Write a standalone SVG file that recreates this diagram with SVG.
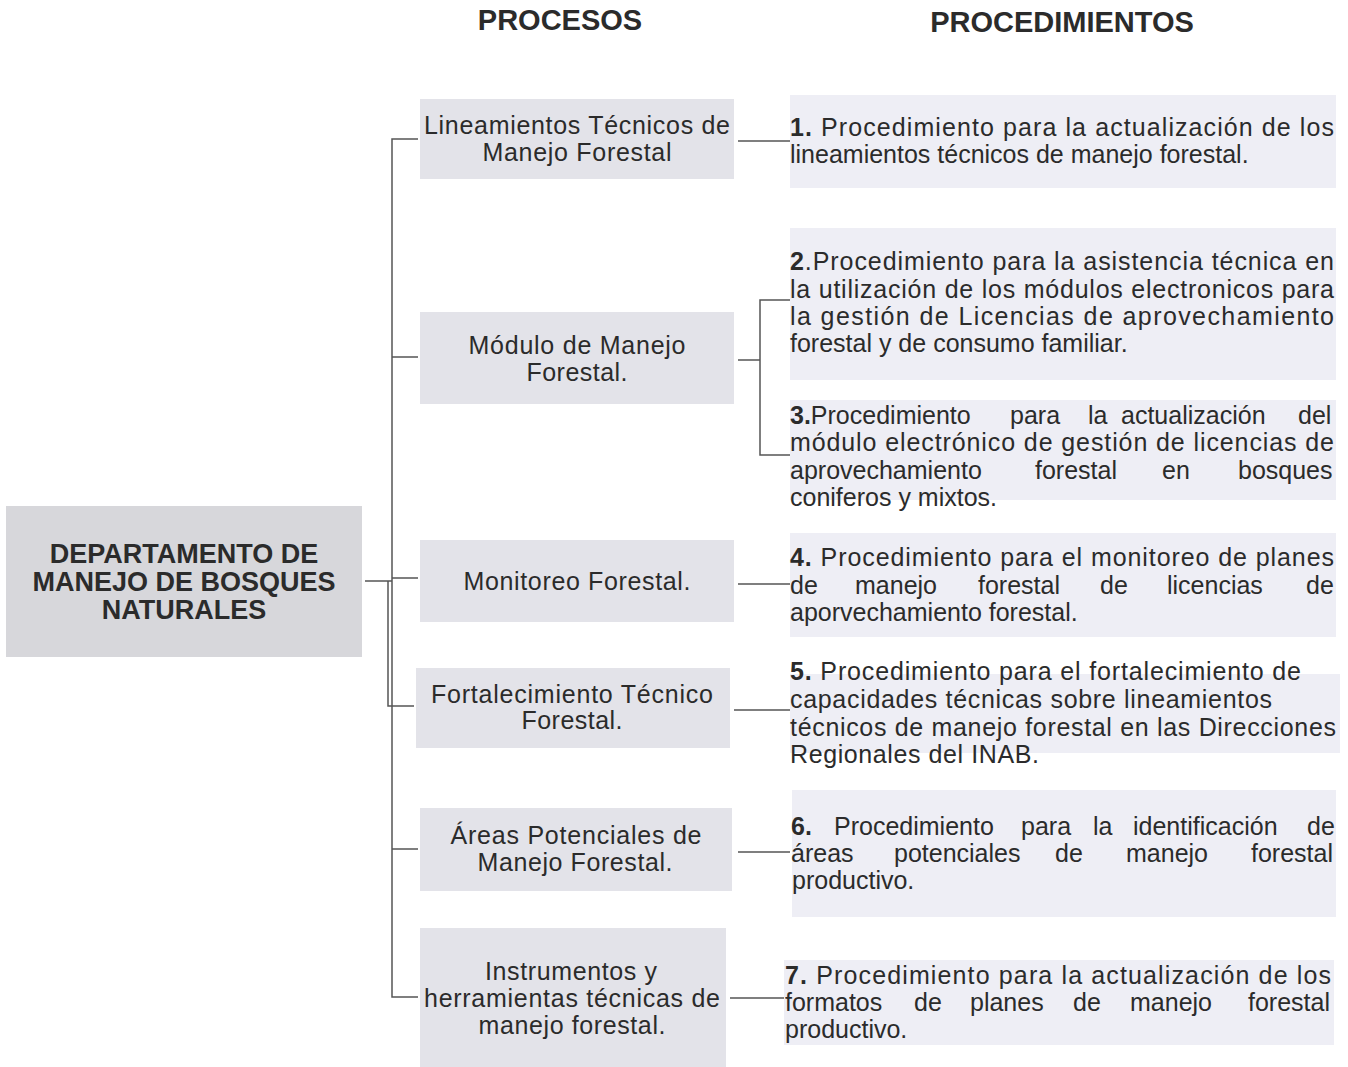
<svg xmlns="http://www.w3.org/2000/svg" width="1348" height="1067" viewBox="0 0 1348 1067">
<style>
text{font-family:"Liberation Sans",Arial,sans-serif;fill:#2b2b2b}
.hdr{font-size:29px;font-weight:bold;text-anchor:middle}
.ttl{font-size:27px;font-weight:bold;text-anchor:middle}
.pr{font-size:25px;text-anchor:middle}
.pd{font-size:25px}
.b{font-weight:bold}
.root{fill:#d7d7db}
.pbox{fill:#e3e3e9}
.dbox{fill:#eeeef5}
.ln{stroke:#555;stroke-width:1.5;fill:none}
</style>
<rect width="1348" height="1067" fill="#ffffff"/>
<g id="headers">
<text class="hdr" x="560" y="30">PROCESOS</text>
<text class="hdr" x="1062" y="32">PROCEDIMIENTOS</text>
</g>
<g id="root">
<rect class="root" x="6" y="506" width="356" height="151"/>
<text class="ttl" x="184" y="563">DEPARTAMENTO DE</text>
<text class="ttl" x="184" y="591">MANEJO DE BOSQUES</text>
<text class="ttl" x="184" y="619">NATURALES</text>
</g>
<g id="p1"><rect class="pbox" x="420" y="99" width="314" height="80"/>
<text class="pr" x="577" y="134" textLength="306" lengthAdjust="spacing">Lineamientos Técnicos de</text><text class="pr" x="577" y="161" textLength="189" lengthAdjust="spacing">Manejo Forestal</text></g>
<g id="p2"><rect class="pbox" x="420" y="312" width="314" height="92"/>
<text class="pr" x="577" y="354" textLength="217" lengthAdjust="spacing">Módulo de Manejo</text><text class="pr" x="577" y="381" textLength="101" lengthAdjust="spacing">Forestal.</text></g>
<g id="p3"><rect class="pbox" x="420" y="540" width="314" height="82"/>
<text class="pr" x="577" y="590" textLength="227" lengthAdjust="spacing">Monitoreo Forestal.</text></g>
<g id="p4"><rect class="pbox" x="416" y="668" width="314" height="80"/>
<text class="pr" x="572" y="703" textLength="282" lengthAdjust="spacing">Fortalecimiento Técnico</text><text class="pr" x="572" y="729" textLength="101" lengthAdjust="spacing">Forestal.</text></g>
<g id="p5"><rect class="pbox" x="420" y="808" width="312" height="83"/>
<text class="pr" x="576" y="844" textLength="251" lengthAdjust="spacing">Áreas Potenciales de</text><text class="pr" x="575" y="871" textLength="195" lengthAdjust="spacing">Manejo Forestal.</text></g>
<g id="p6"><rect class="pbox" x="420" y="928" width="306" height="139"/>
<text class="pr" x="571" y="980" textLength="172" lengthAdjust="spacing">Instrumentos y</text><text class="pr" x="572" y="1007" textLength="296" lengthAdjust="spacing">herramientas técnicas de</text><text class="pr" x="572" y="1034" textLength="187" lengthAdjust="spacing">manejo forestal.</text></g>

<g id="d1"><rect class="dbox" x="790" y="95" width="546" height="93"/>
<text class="pd" x="790" y="136" textLength="544" lengthAdjust="spacing"><tspan class="b">1.</tspan> Procedimiento para la actualización de los</text>
<text class="pd" x="790" y="163">lineamientos técnicos de manejo forestal.</text></g>
<g id="d2"><rect class="dbox" x="790" y="228" width="546" height="152"/>
<text class="pd" x="790" y="270" textLength="544" lengthAdjust="spacing"><tspan class="b">2</tspan>.Procedimiento para la asistencia técnica en</text>
<text class="pd" x="790" y="298" textLength="544" lengthAdjust="spacing">la utilización de los módulos electronicos para</text>
<text class="pd" x="790" y="325" textLength="544" lengthAdjust="spacing">la gestión de Licencias de aprovechamiento</text>
<text class="pd" x="790" y="352">forestal y de consumo familiar.</text></g>
<g id="d3"><rect class="dbox" x="790" y="400" width="546" height="100"/>
<text class="pd" y="424"><tspan x="790" class="b">3.</tspan><tspan>Procedimiento</tspan><tspan x="1010">para</tspan><tspan x="1088">la</tspan><tspan x="1121">actualización</tspan><tspan x="1298">del</tspan></text>
<text class="pd" x="790" y="451" textLength="544" lengthAdjust="spacing">módulo electrónico de gestión de licencias de</text>
<text class="pd" y="479"><tspan x="790">aprovechamiento</tspan><tspan x="1035">forestal</tspan><tspan x="1162">en</tspan><tspan x="1238">bosques</tspan></text>
<text class="pd" x="790" y="506">coniferos y mixtos.</text></g>
<g id="d4"><rect class="dbox" x="790" y="533" width="546" height="104"/>
<text class="pd" x="790" y="566" textLength="544" lengthAdjust="spacing"><tspan class="b">4.</tspan> Procedimiento para el monitoreo de planes</text>
<text class="pd" y="594"><tspan x="790">de</tspan><tspan x="855">manejo</tspan><tspan x="978">forestal</tspan><tspan x="1100">de</tspan><tspan x="1167">licencias</tspan><tspan x="1306">de</tspan></text>
<text class="pd" x="790" y="621">aporvechamiento forestal.</text></g>
<g id="d5"><rect class="dbox" x="790" y="674" width="550" height="79"/>
<text class="pd" x="790" y="680" textLength="511" lengthAdjust="spacing"><tspan class="b">5.</tspan> Procedimiento para el  fortalecimiento de</text>
<text class="pd" x="790" y="708" textLength="482" lengthAdjust="spacing">capacidades técnicas sobre lineamientos</text>
<text class="pd" x="790" y="736" textLength="546" lengthAdjust="spacing">técnicos de manejo forestal en las Direcciones</text>
<text class="pd" x="790" y="763" textLength="249" lengthAdjust="spacing">Regionales del INAB.</text></g>
<g id="d6"><rect class="dbox" x="792" y="790" width="544" height="127"/>
<text class="pd" y="835"><tspan x="791" class="b">6.</tspan><tspan x="834">Procedimiento</tspan><tspan x="1021">para</tspan><tspan x="1093">la</tspan><tspan x="1133">identificación</tspan><tspan x="1307">de</tspan></text>
<text class="pd" y="862"><tspan x="791">áreas</tspan><tspan x="894">potenciales</tspan><tspan x="1055">de</tspan><tspan x="1126">manejo</tspan><tspan x="1251">forestal</tspan></text>
<text class="pd" x="792" y="889">productivo.</text></g>
<g id="d7"><rect class="dbox" x="784" y="960" width="550" height="85"/>
<text class="pd" x="785" y="984" textLength="546" lengthAdjust="spacing"><tspan class="b">7.</tspan> Procedimiento para la actualización de los</text>
<text class="pd" y="1011"><tspan x="785">formatos</tspan><tspan x="914">de</tspan><tspan x="970">planes</tspan><tspan x="1073">de</tspan><tspan x="1130">manejo</tspan><tspan x="1248">forestal</tspan></text>
<text class="pd" x="785" y="1038">productivo.</text></g>

<g id="connectors" class="ln">
<path class="ln" d="M365 581H392"/>
<path class="ln" d="M418 139H392V997H418"/>
<path class="ln" d="M392 357H418"/>
<path class="ln" d="M392 578H418"/>
<path class="ln" d="M388 581V706H414"/>
<path class="ln" d="M392 849H418"/>
<path class="ln" d="M738 141H790"/>
<path class="ln" d="M738 360H760"/>
<path class="ln" d="M790 300H760V455H790"/>
<path class="ln" d="M738 584H790"/>
<path class="ln" d="M734 710H790"/>
<path class="ln" d="M738 852H790"/>
<path class="ln" d="M730 998H784"/>
</g>
</svg>
